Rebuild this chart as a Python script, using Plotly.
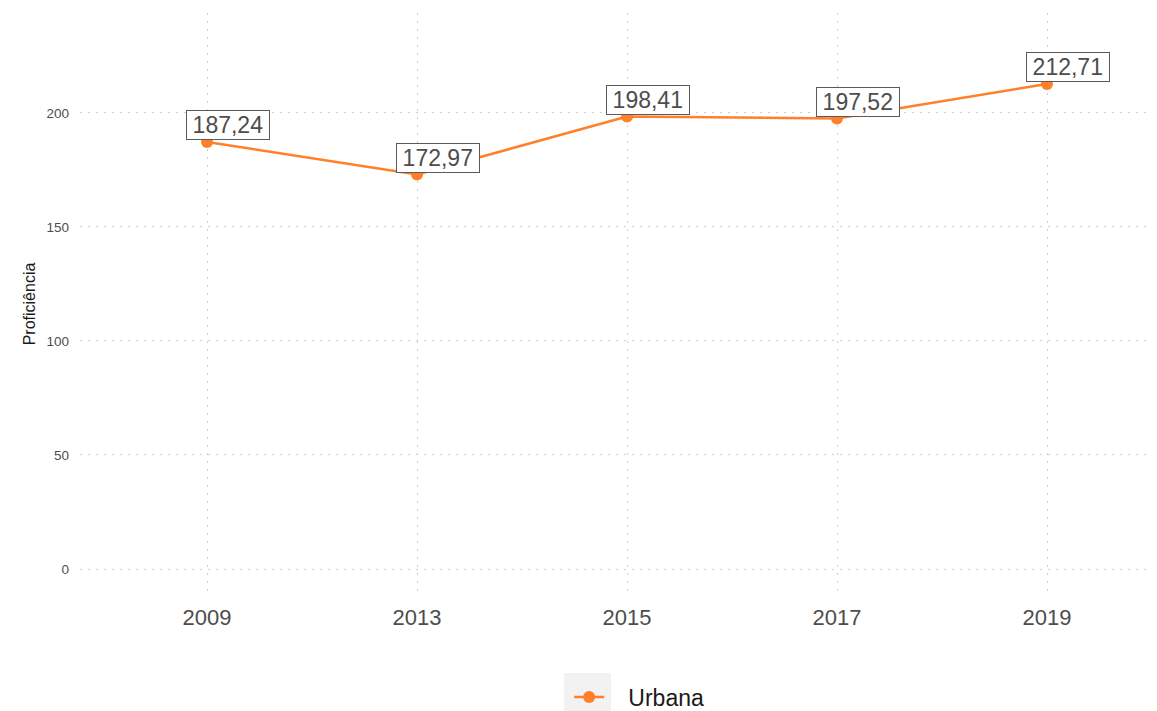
import plotly.graph_objects as go

# data
years = ["2009", "2013", "2015", "2017", "2019"]
proficiencia = [187.24, 172.97, 198.41, 197.52, 212.71]
labels = ["187,24", "172,97", "198,41", "197,52", "212,71"]
serie = "Urbana"

line_color = "#ff7f2a"
text_color = "#4d4d4d"
grid_color = "#cfcfcf"

# the page body has an 8px margin, so the figure sits 8px right/down in the window
off = 8
W, H = 1157, 711
pl, pr, pt, pb = 80, 1152, 13, 595  # wanted plot box in window pixels

fig = go.Figure()

fig.add_trace(go.Scatter(
    x=years,
    y=proficiencia,
    mode="lines+markers",
    name="\u00a0\u00a0\u00a0" + serie,
    line=dict(color=line_color, width=2.5),
    marker=dict(color=line_color, size=12),
))

# value labels (geom_label style boxes); x given as category index
for i, (val, lab) in enumerate(zip(proficiencia, labels)):
    fig.add_annotation(
        x=i, y=val, text="\u2009" + lab + "\u2009", showarrow=False,
        xshift=21, yshift=17,
        font=dict(size=23, color=text_color),
        bgcolor="white", bordercolor="#5a5a5a", borderwidth=1, borderpad=1,
    )

# grey key background behind the legend symbol
fig.add_shape(
    type="rect", xref="paper", yref="paper",
    x0=(564 - pl) / (pr - pl), x1=(611 - pl) / (pr - pl),
    y0=(pb - 711) / (pb - pt), y1=(pb - 673) / (pb - pt),
    fillcolor="#f2f2f2", line=dict(width=0), layer="below",
)

fig.update_layout(
    width=W,
    height=H,
    margin=dict(l=pl - off, r=W - (pr - off), t=pt - off, b=H - (pb - off)),
    plot_bgcolor="white",
    paper_bgcolor="white",
    font=dict(family="Liberation Sans, Arial, sans-serif", color=text_color),
    showlegend=True,
    legend=dict(
        orientation="h",
        xref="container", yref="container",
        x=0.485, xanchor="left",
        y=1 - (697 - off) / H, yanchor="middle",
        font=dict(size=23, color="#1a1a1a"),
        bgcolor="rgba(0,0,0,0)",
    ),
    xaxis=dict(
        type="category",
        range=[-0.605, 4.5],
        automargin=False,
        showgrid=True, gridcolor=grid_color, griddash="2px,6px", gridwidth=1,
        zeroline=False, showline=False,
        ticks="", ticklabelstandoff=7,
        tickfont=dict(size=22, color=text_color),
    ),
    yaxis=dict(
        range=[-11.4, 243.8],
        automargin=False,
        tickvals=[0, 50, 100, 150, 200],
        showgrid=True, gridcolor=grid_color, griddash="2px,6px", gridwidth=1,
        zeroline=False, showline=False,
        ticks="", ticklabelstandoff=10,
        tickfont=dict(size=13.5, color=text_color),
        title=dict(text="Proficiência", font=dict(size=16, color="#1a1a1a"), standoff=6),
    ),
)

fig.write_html("out.html")
